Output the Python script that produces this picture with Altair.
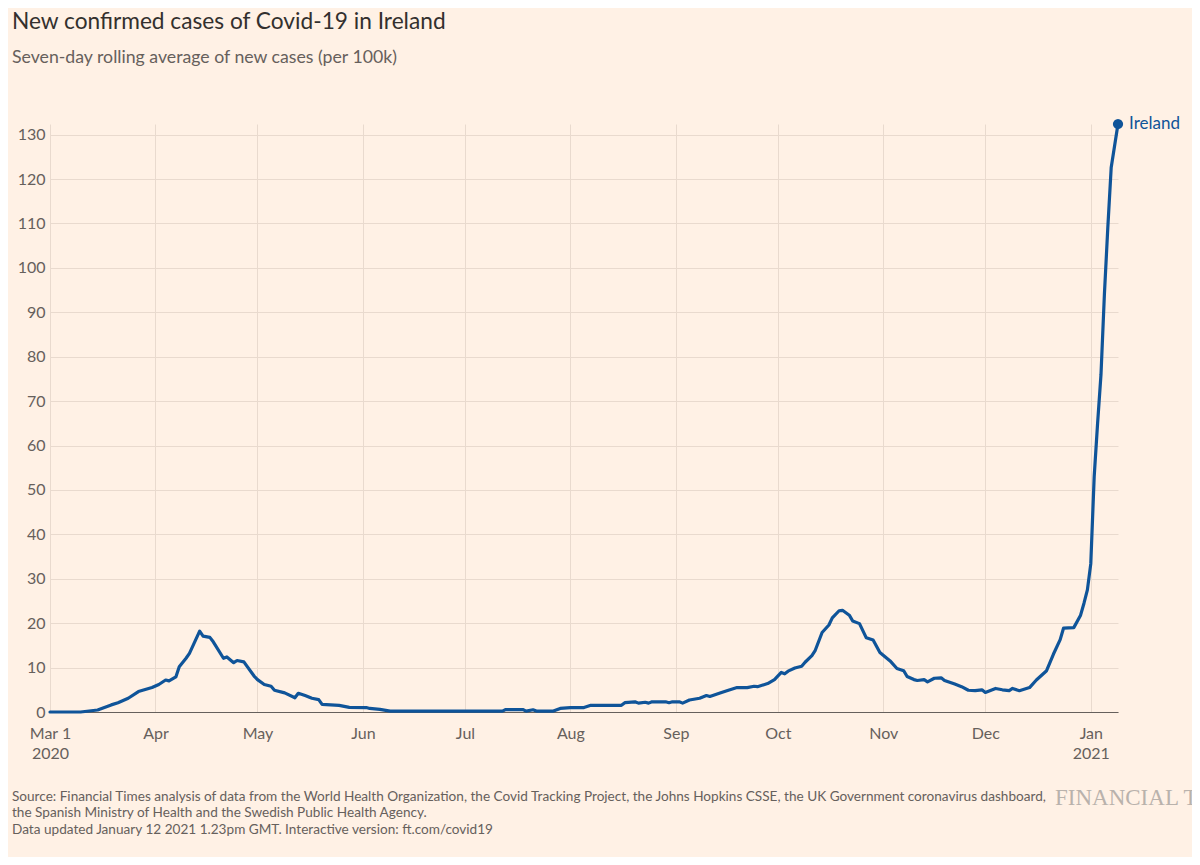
import altair as alt
import pandas as pd

# ---- data (7-day rolling avg of new cases per 100k) ----
dates = [
    "2020-03-01", "2020-03-10", "2020-03-15", "2020-03-19", "2020-03-21", "2020-03-24",
    "2020-03-27", "2020-03-31", "2020-04-02", "2020-04-04", "2020-04-05", "2020-04-07",
    "2020-04-08", "2020-04-10", "2020-04-11", "2020-04-14", "2020-04-15", "2020-04-17",
    "2020-04-18", "2020-04-21", "2020-04-22", "2020-04-24", "2020-04-25", "2020-04-27",
    "2020-04-28", "2020-04-30", "2020-05-01", "2020-05-03", "2020-05-05", "2020-05-06",
    "2020-05-09", "2020-05-12", "2020-05-13", "2020-05-15", "2020-05-17", "2020-05-19",
    "2020-05-20", "2020-05-25", "2020-05-28", "2020-06-02", "2020-06-03", "2020-06-06",
    "2020-06-09", "2020-07-12", "2020-07-13", "2020-07-18", "2020-07-19", "2020-07-21",
    "2020-07-22", "2020-07-27", "2020-07-29", "2020-08-01", "2020-08-05", "2020-08-07",
    "2020-08-16", "2020-08-17", "2020-08-20", "2020-08-21", "2020-08-23", "2020-08-24",
    "2020-08-25", "2020-08-29", "2020-08-30", "2020-08-31", "2020-09-02", "2020-09-03",
    "2020-09-05", "2020-09-08", "2020-09-10", "2020-09-11", "2020-09-14", "2020-09-16",
    "2020-09-19", "2020-09-22", "2020-09-24", "2020-09-25", "2020-09-28", "2020-09-30",
    "2020-10-02", "2020-10-03", "2020-10-04", "2020-10-06", "2020-10-08", "2020-10-09",
    "2020-10-11", "2020-10-12", "2020-10-14", "2020-10-16", "2020-10-17", "2020-10-19",
    "2020-10-20", "2020-10-22", "2020-10-23", "2020-10-25", "2020-10-27", "2020-10-29",
    "2020-10-31", "2020-11-03", "2020-11-05", "2020-11-07", "2020-11-08", "2020-11-10",
    "2020-11-11", "2020-11-13", "2020-11-14", "2020-11-16", "2020-11-18", "2020-11-19",
    "2020-11-22", "2020-11-24", "2020-11-26", "2020-11-28", "2020-11-30", "2020-12-01",
    "2020-12-04", "2020-12-06", "2020-12-08", "2020-12-09", "2020-12-11", "2020-12-14",
    "2020-12-16", "2020-12-19", "2020-12-21", "2020-12-23", "2020-12-24", "2020-12-27",
    "2020-12-29", "2020-12-30", "2020-12-31", "2021-01-01", "2021-01-02", "2021-01-03",
    "2021-01-04", "2021-01-05", "2021-01-06", "2021-01-07", "2021-01-08", "2021-01-09",
]
values = [
    0.0, 0.0, 0.45, 1.6, 2.1, 3.1,
    4.6, 5.5, 6.2, 7.2, 7.0, 7.9,
    10.2, 12.1, 13.2, 18.2, 17.1, 16.8,
    15.8, 12.1, 12.4, 11.1, 11.6, 11.3,
    10.2, 8.1, 7.3, 6.2, 5.8, 4.9,
    4.3, 3.2, 4.2, 3.7, 3.1, 2.8,
    1.7, 1.5, 1.05, 1.0, 0.8, 0.6,
    0.2, 0.2, 0.55, 0.55, 0.2, 0.5,
    0.2, 0.2, 0.8, 1.0, 1.0, 1.5,
    1.5, 2.1, 2.3, 2.0, 2.2, 2.0,
    2.3, 2.3, 2.1, 2.3, 2.3, 2.0,
    2.7, 3.1, 3.7, 3.5, 4.3, 4.8,
    5.5, 5.5, 5.8, 5.7, 6.4, 7.3,
    8.9, 8.6, 9.2, 9.9, 10.3, 11.2,
    12.7, 13.9, 17.9, 19.6, 21.2, 22.8,
    22.9, 21.8, 20.5, 19.9, 16.7, 16.2,
    13.4, 11.5, 9.8, 9.3, 8.0, 7.3,
    7.1, 7.3, 6.8, 7.6, 7.7, 7.1,
    6.3, 5.7, 4.9, 4.8, 5.0, 4.4,
    5.3, 5.0, 4.8, 5.3, 4.8, 5.5,
    7.2, 9.3, 13.0, 16.3, 18.9, 19.0,
    21.8, 24.5, 27.5, 33.4, 53.0, 65.0,
    76.0, 94.0, 109.0, 122.6, 127.5, 132.4,
]
series_name = "Ireland"

month_starts = [(2020, 3), (2020, 4), (2020, 5), (2020, 6), (2020, 7), (2020, 8),
                (2020, 9), (2020, 10), (2020, 11), (2020, 12), (2021, 1)]
y_ticks = list(range(0, 131, 10))

title_text = "New confirmed cases of Covid-19 in Ireland"
subtitle_text = "Seven-day rolling average of new cases (per 100k)"
footer_text = (
    "Source: Financial Times analysis of data from the World Health Organization, the Covid Tracking Project, "
    "the Johns Hopkins CSSE, the UK Government coronavirus dashboard,\n"
    "the Spanish Ministry of Health and the Swedish Public Health Agency.\n"
    "Data updated January 12 2021 1.23pm GMT. Interactive version: ft.com/covid19"
)
logo_text = "FINANCIAL TIMES"

# ---- styling ----
BG = "#FFF1E5"
LINE = "#0F5499"
GRID = "#E9DACE"
TEXT = "#66605C"
FONT = "Lato"

W, H = 1068, 588

df = pd.DataFrame({"date": dates, "value": values})
last = df.tail(1).assign(label=series_name)

x_scale = alt.Scale(
    type="utc",
    domain=[alt.DateTime(year=2020, month=3, date=1, utc=True),
            alt.DateTime(year=2021, month=1, date=9, utc=True)],
    nice=False,
)
y_scale = alt.Scale(domain=[0, 132.4], nice=False, zero=True)

x_axis = alt.Axis(
    values=[alt.DateTime(year=y, month=m, date=1, utc=True) for y, m in month_starts],
    labelExpr=("utcFormat(datum.value, '%m') == '03' ? ['Mar 1', '2020'] : "
               "utcFormat(datum.value, '%m') == '01' ? ['Jan', '2021'] : "
               "utcFormat(datum.value, '%b')"),
    title=None,
    grid=True,
    gridColor=GRID,
    gridWidth=1,
    ticks=False,
    domain=True,
    domainColor=TEXT,
    domainWidth=1.2,
    labelFont=FONT,
    labelFontSize=16,
    labelColor=TEXT,
    labelPadding=13,
    labelLineHeight=20,
    labelAlign="center",
    labelBaseline="top",
)
y_axis = alt.Axis(
    values=y_ticks,
    title=None,
    grid=True,
    gridColor=GRID,
    gridWidth=1,
    ticks=False,
    domain=False,
    labelFont=FONT,
    labelFontSize=16,
    labelColor=TEXT,
    labelPadding=5,
)

base = alt.Chart(df)

line = base.mark_line(color=LINE, strokeWidth=3.2, strokeJoin="round", strokeCap="round").encode(
    x=alt.X("date:T", scale=x_scale, axis=x_axis),
    y=alt.Y("value:Q", scale=y_scale, axis=y_axis),
)

dot = alt.Chart(last).mark_circle(color=LINE, size=105, opacity=1).encode(
    x=alt.X("date:T", scale=x_scale),
    y=alt.Y("value:Q", scale=y_scale),
)

label = alt.Chart(last).mark_text(
    align="left", baseline="middle", dx=11, font=FONT, fontSize=17, color=LINE
).encode(
    x=alt.X("date:T", scale=x_scale),
    y=alt.Y("value:Q", scale=y_scale),
    text="label:N",
)

footer = alt.Chart(pd.DataFrame({"t": [footer_text]})).mark_text(
    align="left", baseline="alphabetic", lineBreak="\n", lineHeight=16.3,
    font=FONT, fontSize=13.6, color=TEXT,
).encode(x=alt.value(-38), y=alt.value(677), text="t:N")

logo = alt.Chart(pd.DataFrame({"t": [logo_text]})).mark_text(
    align="left", baseline="alphabetic", font="Liberation Serif", fontSize=23,
    color="#B9B2AC",
).encode(x=alt.value(1005), y=alt.value(681), text="t:N")

chart = alt.layer(line, dot, label, footer, logo).properties(
    width=W,
    height=H,
    title=alt.TitleParams(
        text=title_text,
        subtitle=subtitle_text,
        anchor="start",
        frame="group",
        dx=-38,
        offset=48,
        font=FONT,
        fontSize=22.7,
        fontWeight="normal",
        color="#33302E",
        subtitleFont=FONT,
        subtitleFontSize=17.7,
        subtitleColor=TEXT,
        subtitlePadding=16,
    ),
    autosize=alt.AutoSizeParams(type="none"),
    padding={"left": 42, "top": 116, "right": 74, "bottom": 145},
).configure(
    background=BG,
).configure_view(
    strokeWidth=0,
)

chart.save("out.html", embed_options={"renderer": "svg", "actions": False})
